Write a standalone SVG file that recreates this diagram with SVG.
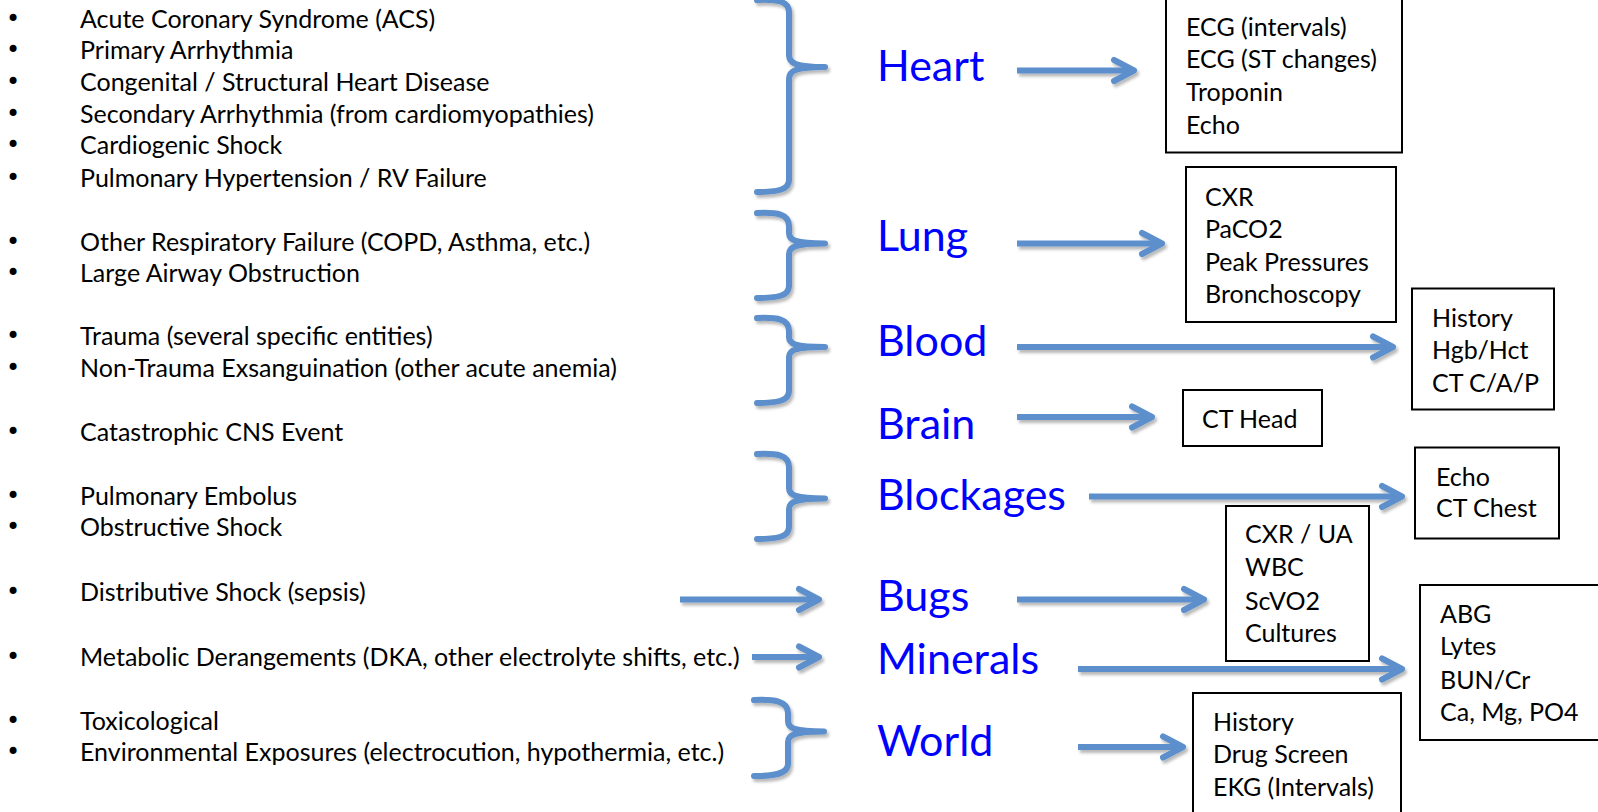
<svg xmlns="http://www.w3.org/2000/svg" width="1598" height="812" viewBox="0 0 1598 812">
  <style>
    .item { font-family: Lato, "Open Sans", sans-serif; font-size: 25px; fill: #000; }
    .bul { font-family: "DejaVu Sans", sans-serif; font-size: 24px; fill: #000; text-anchor: middle; }
    .cat { font-family: Lato, "Open Sans", sans-serif; font-size: 43px; fill: #0000ff; }
    .box { fill: #fff; stroke: #000; stroke-width: 2; }
    .brace { fill: none; stroke: #5b8fcb; stroke-width: 6; stroke-linecap: round; stroke-linejoin: round; }
    .arrow { fill: none; stroke: #5b8fcb; stroke-width: 6; marker-end: url(#chev); }
  </style>
  <defs>
    <filter id="soft" x="-10%" y="-10%" width="130%" height="140%">
      <feDropShadow dx="2" dy="3" stdDeviation="1.6" flood-color="#000" flood-opacity="0.28"/>
    </filter>
    <marker id="chev" viewBox="-26 -16 32 32" markerWidth="32" markerHeight="32" refX="0" refY="0" orient="auto" markerUnits="userSpaceOnUse">
      <path d="M-20,-10.5 L0,0 L-20,10.5" fill="none" stroke="#5b8fcb" stroke-width="6" stroke-linecap="round" stroke-linejoin="round"/>
    </marker>
  </defs>
  <rect width="1598" height="812" fill="#fff"/>

  <!-- left column: causes, grouped by system -->
  <g id="causes-heart">
    <text class="bul" x="13" y="27">•</text><text class="item" x="80" y="28">Acute Coronary Syndrome (ACS)</text>
    <text class="bul" x="13" y="58">•</text><text class="item" x="80" y="59">Primary Arrhythmia</text>
    <text class="bul" x="13" y="90">•</text><text class="item" x="80" y="91">Congenital / Structural Heart Disease</text>
    <text class="bul" x="13" y="121.5">•</text><text class="item" x="80" y="122.5">Secondary Arrhythmia (from cardiomyopathies)</text>
    <text class="bul" x="13" y="153">•</text><text class="item" x="80" y="154">Cardiogenic Shock</text>
    <text class="bul" x="13" y="185.5">•</text><text class="item" x="80" y="186.5">Pulmonary Hypertension / RV Failure</text>
  </g>
  <g id="causes-lung">
    <text class="bul" x="13" y="249.5">•</text><text class="item" x="80" y="250.5">Other Respiratory Failure (COPD, Asthma, etc.)</text>
    <text class="bul" x="13" y="281">•</text><text class="item" x="80" y="282">Large Airway Obstruction</text>
  </g>
  <g id="causes-blood">
    <text class="bul" x="13" y="343.5">•</text><text class="item" x="80" y="344.5">Trauma (several specific entities)</text>
    <text class="bul" x="13" y="375.5">•</text><text class="item" x="80" y="376.5">Non-Trauma Exsanguination (other acute anemia)</text>
  </g>
  <g id="causes-brain">
    <text class="bul" x="13" y="440">•</text><text class="item" x="80" y="441">Catastrophic CNS Event</text>
  </g>
  <g id="causes-blockages">
    <text class="bul" x="13" y="503.5">•</text><text class="item" x="80" y="504.5">Pulmonary Embolus</text>
    <text class="bul" x="13" y="535">•</text><text class="item" x="80" y="536">Obstructive Shock</text>
  </g>
  <g id="causes-bugs">
    <text class="bul" x="13" y="600">•</text><text class="item" x="80" y="601">Distributive Shock (sepsis)</text>
  </g>
  <g id="causes-minerals">
    <text class="bul" x="13" y="665">•</text><text class="item" x="80" y="666">Metabolic Derangements (DKA, other electrolyte shifts, etc.)</text>
  </g>
  <g id="causes-world">
    <text class="bul" x="13" y="728.5">•</text><text class="item" x="80" y="729.5">Toxicological</text>
    <text class="bul" x="13" y="760">•</text><text class="item" x="80" y="761">Environmental Exposures (electrocution, hypothermia, etc.)</text>
  </g>

  <!-- connectors: braces and arrows -->
  <g id="connectors" filter="url(#soft)">
    <path class="brace" d="M757,0 C777,-1 789,1 789,12 L789,55 C789,63 795,67 825,67 C795,67 789,71 789,79 L789,180 C789,190 777,192 757,192"/>
    <path class="brace" d="M757,213 C777,212 789,214 789,226 L789,233 C789,240 795,243.5 825,243.5 C795,243.5 789,247 789,254 L789,286 C789,296 777,298 757,298"/>
    <path class="brace" d="M757,318 C777,317 789,319 789,331 L789,337 C789,344 795,347 825,347 C795,347 789,350 789,357 L789,391 C789,401 777,403 757,403"/>
    <path class="brace" d="M757,454 C777,453 789,455 789,467 L789,488 C789,495 795,498.5 825,498.5 C795,498.5 789,502 789,509 L789,527 C789,537 777,539 757,539"/>
    <path class="brace" d="M754,700 C774,699 788,701 788,713 L788,721 C788,728 794,731.5 824,731.5 C794,731.5 788,735 788,742 L788,764 C788,774 774,776 754,776"/>

    <line class="arrow" x1="1017" y1="70.5" x2="1134" y2="70.5"/>
    <line class="arrow" x1="1017" y1="243.5" x2="1162" y2="243.5"/>
    <line class="arrow" x1="1017" y1="347" x2="1393" y2="347"/>
    <line class="arrow" x1="1017" y1="417" x2="1152" y2="417"/>
    <line class="arrow" x1="1089" y1="496.5" x2="1402" y2="496.5"/>
    <line class="arrow" x1="680" y1="599.5" x2="819" y2="599.5"/>
    <line class="arrow" x1="1017" y1="599.5" x2="1204" y2="599.5"/>
    <line class="arrow" x1="752" y1="657" x2="819" y2="657"/>
    <line class="arrow" x1="1078" y1="669" x2="1402" y2="669"/>
    <line class="arrow" x1="1078" y1="747" x2="1183" y2="747"/>
  </g>

  <!-- system labels -->
  <g id="heart"><text class="cat" x="877" y="81">Heart</text></g>
  <g id="lung"><text class="cat" x="877" y="251">Lung</text></g>
  <g id="blood"><text class="cat" x="877" y="356">Blood</text></g>
  <g id="brain"><text class="cat" x="877" y="439">Brain</text></g>
  <g id="blockages"><text class="cat" x="877" y="510">Blockages</text></g>
  <g id="bugs"><text class="cat" x="877" y="611">Bugs</text></g>
  <g id="minerals"><text class="cat" x="877" y="674">Minerals</text></g>
  <g id="world"><text class="cat" x="877" y="756">World</text></g>

  <!-- workup boxes -->
  <g id="tests-heart">
    <rect class="box" x="1166" y="-5" width="236" height="157.5"/>
    <text class="item" x="1186" y="36">ECG (intervals)</text>
    <text class="item" x="1186" y="68">ECG (ST changes)</text>
    <text class="item" x="1186" y="100.5">Troponin</text>
    <text class="item" x="1186" y="133.5">Echo</text>
  </g>
  <g id="tests-lung">
    <rect class="box" x="1186" y="167" width="210" height="155"/>
    <text class="item" x="1205" y="205.5">CXR</text>
    <text class="item" x="1205" y="237.5">PaCO2</text>
    <text class="item" x="1205" y="270.5">Peak Pressures</text>
    <text class="item" x="1205" y="302.5">Bronchoscopy</text>
  </g>
  <g id="tests-blood">
    <rect class="box" x="1412" y="288.5" width="142" height="121"/>
    <text class="item" x="1432" y="327">History</text>
    <text class="item" x="1432" y="359">Hgb/Hct</text>
    <text class="item" x="1432" y="392">CT C/A/P</text>
  </g>
  <g id="tests-brain">
    <rect class="box" x="1183" y="390" width="139" height="56"/>
    <text class="item" x="1202" y="427.5">CT Head</text>
  </g>
  <g id="tests-blockages">
    <rect class="box" x="1415" y="447.5" width="144" height="91"/>
    <text class="item" x="1436" y="485.5">Echo</text>
    <text class="item" x="1436" y="517">CT Chest</text>
  </g>
  <g id="tests-bugs">
    <rect class="box" x="1226" y="506" width="143" height="155"/>
    <text class="item" x="1245" y="543">CXR / UA</text>
    <text class="item" x="1245" y="575.5">WBC</text>
    <text class="item" x="1245" y="609.5">ScVO2</text>
    <text class="item" x="1245" y="642">Cultures</text>
  </g>
  <g id="tests-minerals">
    <rect class="box" x="1420" y="585" width="190" height="155"/>
    <text class="item" x="1440" y="622.5">ABG</text>
    <text class="item" x="1440" y="654.5">Lytes</text>
    <text class="item" x="1440" y="688.5">BUN/Cr</text>
    <text class="item" x="1440" y="720.5">Ca, Mg, PO4</text>
  </g>
  <g id="tests-world">
    <rect class="box" x="1193" y="693" width="208" height="140"/>
    <text class="item" x="1213" y="730.5">History</text>
    <text class="item" x="1213" y="763">Drug Screen</text>
    <text class="item" x="1213" y="795.5">EKG (Intervals)</text>
  </g>
</svg>
